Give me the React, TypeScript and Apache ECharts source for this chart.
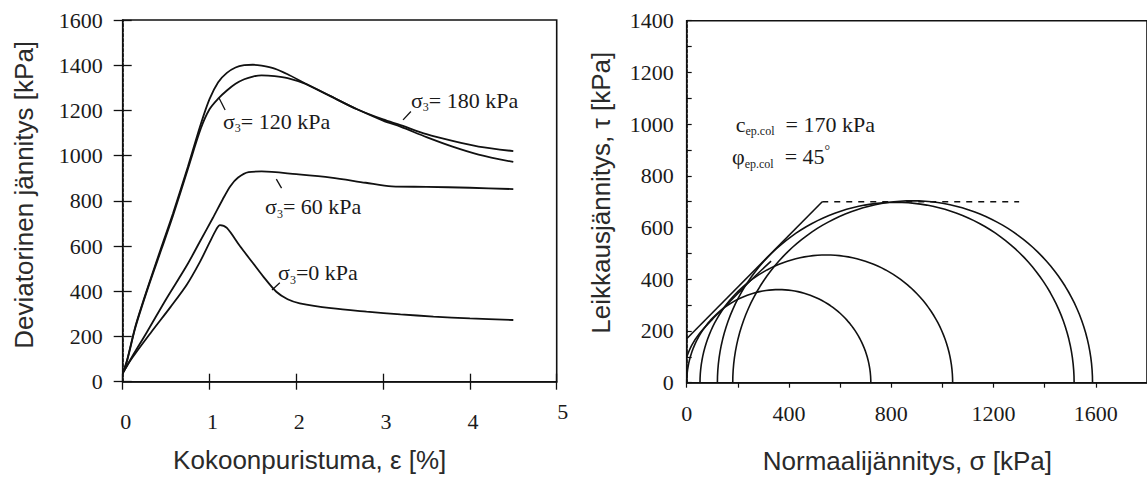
import React, { useEffect, useRef } from "react";
import * as echarts from "echarts";

// ---------- Left chart: deviator stress vs axial strain ----------
const strainTicks = [0, 1, 2, 3, 4, 5];
const devTicks = [0, 200, 400, 600, 800, 1000, 1200, 1400, 1600];

const eps180 = [0, 0.05, 0.15, 0.3, 0.45, 0.58, 0.75, 0.9, 1.0, 1.1, 1.2, 1.3, 1.4, 1.5, 1.6, 1.75, 1.9, 2.1, 2.4, 2.7, 3.0, 3.2, 3.5, 3.8, 4.1, 4.5];
const dev180 = [37, 95, 250, 430, 600, 745, 950, 1140, 1250, 1325, 1366, 1390, 1400, 1402, 1398, 1385, 1360, 1320, 1262, 1205, 1160, 1135, 1095, 1065, 1040, 1020];

const eps120 = [0, 0.05, 0.15, 0.3, 0.45, 0.58, 0.75, 0.9, 1.0, 1.1, 1.2, 1.3, 1.4, 1.5, 1.6, 1.75, 1.9, 2.1, 2.4, 2.7, 3.0, 3.2, 3.5, 3.8, 4.1, 4.5];
const dev120 = [37, 92, 245, 425, 590, 735, 940, 1120, 1205, 1252, 1288, 1318, 1338, 1350, 1355, 1352, 1343, 1318, 1262, 1205, 1155, 1128, 1082, 1040, 1005, 972];

const eps60 = [0, 0.1, 0.28, 0.5, 0.74, 0.89, 1.04, 1.15, 1.24, 1.33, 1.45, 1.6, 2.0, 2.4, 2.8, 3.1, 3.5, 4.0, 4.5];
const dev60 = [37, 105, 220, 365, 515, 620, 725, 805, 865, 903, 927, 930, 918, 903, 880, 864, 862, 858, 852];

const eps0 = [0, 0.1, 0.33, 0.55, 0.74, 0.89, 1.0, 1.08, 1.12, 1.2, 1.35, 1.5, 1.62, 1.77, 1.9, 2.04, 2.4, 2.81, 3.2, 3.58, 4.0, 4.5];
const dev0 = [37, 100, 220, 330, 430, 530, 615, 675, 693, 680, 600, 525, 465, 398, 365, 347, 325, 310, 298, 288, 280, 273];

// ---------- Right chart: Mohr circles ----------
const normalTicks = [0, 400, 800, 1200, 1600];
const shearTicks = [0, 200, 400, 600, 800, 1000, 1200, 1400];
const sigma3 = [0, 52, 120, 180];
const sigma1 = [720, 1040, 1515, 1587];
const cohesion = 170;
const frictionDeg = 45;
const tauCap = 700;
const capEnd = 1300;
const envSigma = [0, 20, 50, 100, 150, 200, 260, 330];
const envTau = [100, 145, 190, 245, 295, 345, 405, 470];

const SERIF = "'Liberation Serif', 'Times New Roman', serif";
const SANS = "'Liberation Sans', Arial, sans-serif";
const INK = "#111";
const TXT = "#1a1a1a";

const pairs = (xs: number[], ys: number[]) => xs.map((x, i) => [x, ys[i]]);

function semicircle(s3: number, s1: number) {
  const c = (s1 + s3) / 2;
  const r = (s1 - s3) / 2;
  const pts: number[][] = [];
  for (let d = 0; d <= 180; d += 2) {
    const t = (d * Math.PI) / 180;
    pts.push([c - r * Math.cos(t), r * Math.sin(t)]);
  }
  return pts;
}

export default function App() {
  const ref = useRef<HTMLDivElement>(null);

  useEffect(() => {
    const chart = echarts.init(ref.current!, null, { renderer: "svg" });

    const lineSeries = (data: number[][], xi: number, yi: number, extra: any = {}) => ({
      type: "line",
      xAxisIndex: xi,
      yAxisIndex: yi,
      data,
      showSymbol: false,
      symbol: "none",
      silent: true,
      lineStyle: { color: INK, width: 1.8 },
      ...extra,
    });

    const mcEndSigma = (tauCap - cohesion) / Math.tan((frictionDeg * Math.PI) / 180);

    const option: any = {
      animation: false,
      backgroundColor: "#fff",
      grid: [
        { left: 122.7, top: 20, width: 434, height: 361.7, show: true, borderColor: INK, borderWidth: 1.6, backgroundColor: "transparent" },
        { left: 686.7, top: 20.7, width: 461.3, height: 362, show: true, borderColor: INK, borderWidth: 1.6, backgroundColor: "transparent" },
      ],
      xAxis: [
        {
          gridIndex: 0,
          type: "value",
          min: strainTicks[0],
          max: strainTicks[strainTicks.length - 1],
          interval: 1,
          position: "bottom",
          axisLine: { show: true, lineStyle: { color: INK, width: 1.6 } },
          axisTick: { show: true, length: 8, lineStyle: { color: INK, width: 1.3 } },
          splitLine: { show: false },
          axisLabel: {
            margin: 19,
            color: TXT,
            fontFamily: SERIF,
            fontSize: 22,
            formatter: (v: number) => (v === strainTicks[strainTicks.length - 1] ? `{f|${v}}` : `{n|${v}}`),
            rich: {
              n: { fontFamily: SERIF, fontSize: 22, color: TXT, padding: [10, 0, 0, 6] },
              f: { fontFamily: SERIF, fontSize: 22, color: TXT, padding: [0, 0, 0, 12] },
            },
          },
          name: "Kokoonpuristuma, ε [%]",
          nameLocation: "middle",
          nameGap: 65,
          nameTextStyle: { fontFamily: SANS, fontSize: 26, color: "#2a2a2a", padding: [0, 60, 0, 0] },
        },
        {
          gridIndex: 0,
          type: "value",
          min: strainTicks[0],
          max: strainTicks[strainTicks.length - 1],
          interval: 1,
          position: "bottom",
          axisLine: { show: false },
          axisTick: { show: true, inside: true, length: 8, lineStyle: { color: INK, width: 1.3 } },
          axisLabel: { show: false },
          splitLine: { show: false },
        },
        {
          gridIndex: 1,
          type: "value",
          min: 0,
          max: 1800,
          interval: 200,
          position: "bottom",
          axisLine: { show: true, lineStyle: { color: INK, width: 1.6 } },
          axisTick: { show: true, length: 5, lineStyle: { color: INK, width: 1.2 } },
          splitLine: { show: false },
          axisLabel: {
            margin: 20,
            color: TXT,
            fontFamily: SERIF,
            fontSize: 22,
            showMaxLabel: false,
            formatter: (v: number) => (normalTicks.includes(v) ? String(v) : ""),
          },
          name: "Normaalijännitys, σ [kPa]",
          nameLocation: "middle",
          nameGap: 65,
          nameTextStyle: { fontFamily: SANS, fontSize: 26, color: "#2a2a2a", padding: [0, 19, 0, 0] },
        },
      ],
      yAxis: [
        {
          gridIndex: 0,
          type: "value",
          min: devTicks[0],
          max: devTicks[devTicks.length - 1],
          interval: 200,
          position: "left",
          axisLine: { show: true, lineStyle: { color: INK, width: 1.6, type: [3, 2] } },
          axisTick: { show: true, length: 9, lineStyle: { color: INK, width: 1.3 } },
          splitLine: { show: false },
          axisLabel: {
            margin: 20,
            color: TXT,
            fontFamily: SERIF,
            fontSize: 22,
            formatter: (v: number) => String(v),
          },
          name: "Deviatorinen jännitys [kPa]",
          nameLocation: "middle",
          nameGap: 86,
          nameTextStyle: { fontFamily: SANS, fontSize: 26, color: "#2a2a2a", padding: [0, 0, 0, 12] },
        },
        {
          gridIndex: 0,
          type: "value",
          min: devTicks[0],
          max: devTicks[devTicks.length - 1],
          interval: 200,
          position: "left",
          axisLine: { show: false },
          axisTick: { show: true, inside: true, length: 9, lineStyle: { color: INK, width: 1.3 } },
          axisLabel: { show: false },
          splitLine: { show: false },
        },
        {
          gridIndex: 1,
          type: "value",
          min: shearTicks[0],
          max: shearTicks[shearTicks.length - 1],
          interval: 100,
          position: "left",
          axisLine: { show: true, lineStyle: { color: INK, width: 1.6, type: [3, 2] } },
          axisTick: { show: true, inside: true, length: 5, lineStyle: { color: INK, width: 1.2 } },
          splitLine: { show: false },
          axisLabel: {
            margin: 13,
            color: TXT,
            fontFamily: SERIF,
            fontSize: 22,
            formatter: (v: number) => (shearTicks.includes(v) ? String(v) : ""),
          },
          name: "Leikkausjännitys, τ [kPa]",
          nameLocation: "middle",
          nameGap: 73,
          nameTextStyle: { fontFamily: SANS, fontSize: 26, color: "#2a2a2a", padding: [0, 0, 0, 18] },
        },
      ],
      series: [
        lineSeries(pairs(eps180, dev180), 0, 0, { smooth: 0.3 }),
        lineSeries(pairs(eps120, dev120), 0, 0, { smooth: 0.3 }),
        lineSeries(pairs(eps60, dev60), 0, 0, { smooth: 0.3 }),
        lineSeries(pairs(eps0, dev0), 0, 0, { smooth: 0.3 }),
        ...sigma3.map((s3, i) => lineSeries(semicircle(s3, sigma1[i]), 2, 2, { lineStyle: { color: INK, width: 1.6 } })),
        lineSeries([[0, cohesion], [mcEndSigma, tauCap]], 2, 2, { lineStyle: { color: INK, width: 1.6 } }),
        lineSeries([[mcEndSigma, tauCap], [capEnd, tauCap]], 2, 2, { lineStyle: { color: INK, width: 1.5, type: [6, 6] } }),
        lineSeries(pairs(envSigma, envTau), 2, 2, { smooth: 0.3, lineStyle: { color: INK, width: 1.6 } }),
      ],
    };

    chart.setOption(option);

    const L = (p: number[]) => chart.convertToPixel({ seriesIndex: 0 }, p) as number[];
    const R = (p: number[]) => chart.convertToPixel({ seriesIndex: 4 }, p) as number[];

    const labRich = {
      m: { fontFamily: SERIF, fontSize: 22, color: TXT, lineHeight: 26 },
      s: { fontFamily: SERIF, fontSize: 12, color: TXT, lineHeight: 26, verticalAlign: "bottom" },
      sup: { fontFamily: SERIF, fontSize: 14, color: TXT, lineHeight: 26, verticalAlign: "top" },
    };

    const textAt = (pt: number[], text: string) => ({
      type: "text",
      x: pt[0],
      y: pt[1],
      silent: true,
      style: { text, rich: labRich, fill: TXT, align: "left", verticalAlign: "middle" },
    });
    const leader = (a: number[], b: number[]) => ({
      type: "line",
      silent: true,
      shape: { x1: a[0], y1: a[1], x2: b[0], y2: b[1] },
      style: { stroke: INK, lineWidth: 1.3 },
    });

    chart.setOption({
      graphic: [
        textAt(L([1.155, 1153]), "{m|σ}{s|3}{m|= 120 kPa}"),
        leader(L([1.18, 1202]), L([1.11, 1255])),
        textAt(L([3.32, 1246]), "{m|σ}{s|3}{m|= 180 kPa}"),
        leader(L([3.32, 1195]), L([3.23, 1158])),
        textAt(L([1.64, 773]), "{m|σ}{s|3}{m|= 60 kPa}"),
        leader(L([1.77, 896]), L([1.83, 856])),
        textAt(L([1.79, 481]), "{m|σ}{s|3}{m|=0 kPa}"),
        leader(L([1.72, 406]), L([1.81, 438])),
        textAt(R([192, 1000]), "{m|c}{s|ep.col}{m|  = 170 kPa}"),
        textAt(R([177, 873]), "{m|φ}{s|ep.col}{m|  = 45}{sup|°}"),
      ],
    });

    return () => chart.dispose();
  }, []);

  return (
    <div
      ref={ref}
      style={{ position: "fixed", left: 0, top: 0, width: 1147, height: 479, background: "#fff" }}
    />
  );
}
